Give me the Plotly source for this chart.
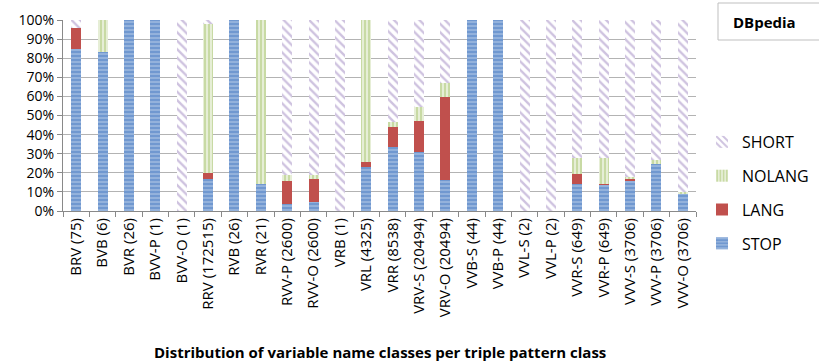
import plotly.graph_objects as go

# Triple pattern classes (with counts) on the x axis
categories = [
    "BRV (75)", "BVB (6)", "BVR (26)", "BVV-P (1)", "BVV-O (1)", "RRV (172515)",
    "RVB (26)", "RVR (21)", "RVV-P (2600)", "RVV-O (2600)", "VRB (1)", "VRL (4325)",
    "VRR (8538)", "VRV-S (20494)", "VRV-O (20494)", "VVB-S (44)", "VVB-P (44)",
    "VVL-S (2)", "VVL-P (2)", "VVR-S (649)", "VVR-P (649)", "VVV-S (3706)",
    "VVV-P (3706)", "VVV-O (3706)",
]

# Share (%) of each variable name class per triple pattern class
stop = [85, 83, 100, 100, 0, 16.6, 100, 14, 3.7, 4.9, 0, 23.3,
        33.3, 30.8, 16.3, 100, 100, 0, 0, 14.2, 13.7, 15.8, 24.5, 8.8]
lang = [11, 0, 0, 0, 0, 3.2, 0, 0, 12.1, 12.1, 0, 2.4,
        10.5, 16.2, 43.2, 0, 0, 0, 0, 5.4, 0.3, 1.0, 0, 0]
nolang = [0, 17, 0, 0, 0, 77.9, 0, 86, 3.2, 2.0, 0, 74.3,
          3.0, 7.5, 7.7, 0, 0, 0, 0, 8.2, 13.8, 1.2, 2.1, 1.2]
short = [round(100 - s - l - n, 1) for s, l, n in zip(stop, lang, nolang)]

FONT = "Open Sans"

# plot area in pixels: x 63..696, y 20..211
L, R, T, B = 63, 696, 20, 211
def px(x):
    return (x - L) / (R - L)
def py(y):
    return (B - y) / (B - T)

fig = go.Figure()

fig.add_trace(go.Bar(
    name="STOP", x=categories, y=stop, legendgroup="stop", legendrank=4,
    marker=dict(color="#7098D0", line=dict(width=0),
                pattern=dict(shape="-", bgcolor="#7098D0", fgcolor="#E4ECF7",
                             size=4, solidity=0.3)),
))
fig.add_trace(go.Bar(
    name="LANG", x=categories, y=lang, legendgroup="lang", legendrank=3,
    marker=dict(color="#C0504D", line=dict(width=0)),
))
fig.add_trace(go.Bar(
    name="NOLANG", x=categories, y=nolang, legendgroup="nolang", legendrank=2,
    marker=dict(color="#9BBB59", line=dict(width=0),
                pattern=dict(shape="|", bgcolor="#E6EED6", fgcolor="#9BBB59",
                             size=4, solidity=0.4)),
))
fig.add_trace(go.Bar(
    name="SHORT", x=categories, y=short, legendgroup="short", legendrank=1,
    marker=dict(color="#9E86C0", line=dict(width=0),
                pattern=dict(shape="\\", bgcolor="#FFFFFF", fgcolor="#9E86C0",
                             size=6, solidity=0.4)),
))

fig.update_layout(
    width=819, height=364,
    margin=dict(l=L, r=819 - R, t=T, b=364 - B, autoexpand=False),
    barmode="stack", bargap=0.62,
    paper_bgcolor="white", plot_bgcolor="white",
    font=dict(family=FONT, size=15, color="#000000"),
    showlegend=True,
    legend=dict(
        traceorder="grouped", tracegroupgap=10, itemwidth=30,
        x=px(702), y=py(125), xanchor="left", yanchor="top",
        font=dict(family=FONT, size=16), bgcolor="rgba(0,0,0,0)",
    ),
    xaxis=dict(
        tickangle=-90, showline=True, linecolor="#898989", linewidth=1,
        ticks="outside", ticklen=5, tickcolor="#898989", tickson="boundaries",
        showgrid=False, tickfont=dict(family=FONT, size=15),
    ),
    yaxis=dict(
        range=[0, 100], dtick=10, ticksuffix="%",
        showline=True, linecolor="#898989", linewidth=1,
        ticks="outside", ticklen=5, tickcolor="#898989",
        showgrid=True, gridcolor="#B3B3B3", gridwidth=1,
        tickfont=dict(family=FONT, size=14), zeroline=False,
    ),
    shapes=[dict(
        type="rect", xref="paper", yref="paper",
        x0=px(718), x1=px(825), y0=py(40), y1=py(3),
        line=dict(color="#BFBFBF", width=1), fillcolor="rgba(0,0,0,0)",
    )],
    annotations=[
        dict(text="<b>DBpedia</b>", xref="paper", yref="paper",
             x=px(731), y=py(22), xanchor="left", yanchor="middle",
             showarrow=False, font=dict(family=FONT, size=15)),
        dict(text="<b>Distribution of variable name classes per triple pattern class</b>",
             xref="paper", yref="paper",
             x=px(380), y=py(352), xanchor="center", yanchor="middle",
             showarrow=False, font=dict(family=FONT, size=15)),
    ],
)

fig.write_html("out.html")
